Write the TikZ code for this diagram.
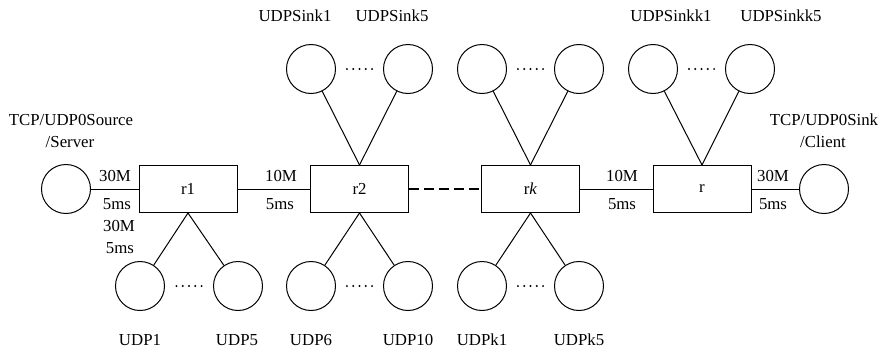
\documentclass[tikz,border=0pt]{standalone}
\usepackage{fontspec}
\setmainfont{Liberation Serif}
\begin{document}
\begin{tikzpicture}[x=1pt,y=-1pt,
  every node/.style={font=\fontsize{16.8}{19}\selectfont, inner sep=0pt},
  router/.style={draw, line width=1pt, minimum width=98pt, minimum height=47pt},
  host/.style={draw, circle, line width=1pt, minimum size=49pt},
  lbl/.style={anchor=base},
  link/.style={line width=1pt},
  farlink/.style={line width=2pt, dash pattern=on 10pt off 5pt}]
\useasboundingbox (0,0) rectangle (879,349);
% routers
\node[router] (r1) at (188,189) {r1};
\node[router] (r2) at (359.5,189) {r2};
\node[router] (rk) at (530.5,189) {r\textit{k}};
\node[router] (r) at (702,189) {r};
% end hosts
\node[host] (src) at (66,189) {};
\node[host] (dst) at (824,189) {};
% top hosts
\node[host] (t1) at (311,69) {};
\node[host] (t2) at (408,69) {};
\node[host] (t3) at (482,69) {};
\node[host] (t4) at (579,69) {};
\node[host] (t5) at (653,69) {};
\node[host] (t6) at (750,69) {};
% bottom hosts
\node[host] (b1) at (140,286) {};
\node[host] (b2) at (238,286) {};
\node[host] (b3) at (311,286) {};
\node[host] (b4) at (408,286) {};
\node[host] (b5) at (482,286) {};
\node[host] (b6) at (579,286) {};
% links
\draw[link] (src) -- (r1);
\draw[link] (r1) -- (r2);
\draw[farlink] (r2) -- (rk);
\draw[link] (rk) -- (r);
\draw[link] (r) -- (dst);
\draw[link] (r2.north) -- (t1);
\draw[link] (r2.north) -- (t2);
\draw[link] (rk.north) -- (t3);
\draw[link] (rk.north) -- (t4);
\draw[link] (r.north) -- (t5);
\draw[link] (r.north) -- (t6);
\draw[link] (r1.south) -- (b1);
\draw[link] (r1.south) -- (b2);
\draw[link] (r2.south) -- (b3);
\draw[link] (r2.south) -- (b4);
\draw[link] (rk.south) -- (b5);
\draw[link] (rk.south) -- (b6);
% ellipsis dots
\foreach \mx/\my in {359.5/69, 530.5/69, 701.5/69, 189/286, 359.5/286, 530.5/286}
  \foreach \k in {-2,...,2}
    \fill (\mx+\k*6.3, \my) circle (1.1pt);
% link labels
\node[lbl] (a1) at (115,181) {30M};
\node[lbl] (a2) at (117,209) {5ms};
\node[lbl] (a3) at (281,181) {10M};
\node[lbl] (a4) at (280,209) {5ms};
\node[lbl] (a5) at (622,181) {10M};
\node[lbl] (a6) at (622,209) {5ms};
\node[lbl] (a7) at (773,181) {30M};
\node[lbl] (a8) at (773,209) {5ms};
\node[lbl] (a9) at (119,231) {30M};
\node[lbl] (a10) at (120,253) {5ms};
% end host labels
\node[lbl] (s1) at (71,125) {TCP/UDP0Source};
\node[lbl] (s2) at (70,147) {/Server};
\node[lbl] (d1) at (824,125) {TCP/UDP0Sink};
\node[lbl] (d2) at (823,147) {/Client};
% top labels
\node[lbl] (tl1) at (295,21) {UDPSink1};
\node[lbl] (tl2) at (392,21) {UDPSink5};
\node[lbl] (tl5) at (671,21) {UDPSinkk1};
\node[lbl] (tl6) at (781,21) {UDPSinkk5};
% bottom labels
\node[lbl] (bl1) at (140,345) {UDP1};
\node[lbl] (bl2) at (237,345) {UDP5};
\node[lbl] (bl3) at (311,345) {UDP6};
\node[lbl] (bl4) at (408,345) {UDP10};
\node[lbl] (bl5) at (482,345) {UDPk1};
\node[lbl] (bl6) at (579,345) {UDPk5};
\end{tikzpicture}
\end{document}
